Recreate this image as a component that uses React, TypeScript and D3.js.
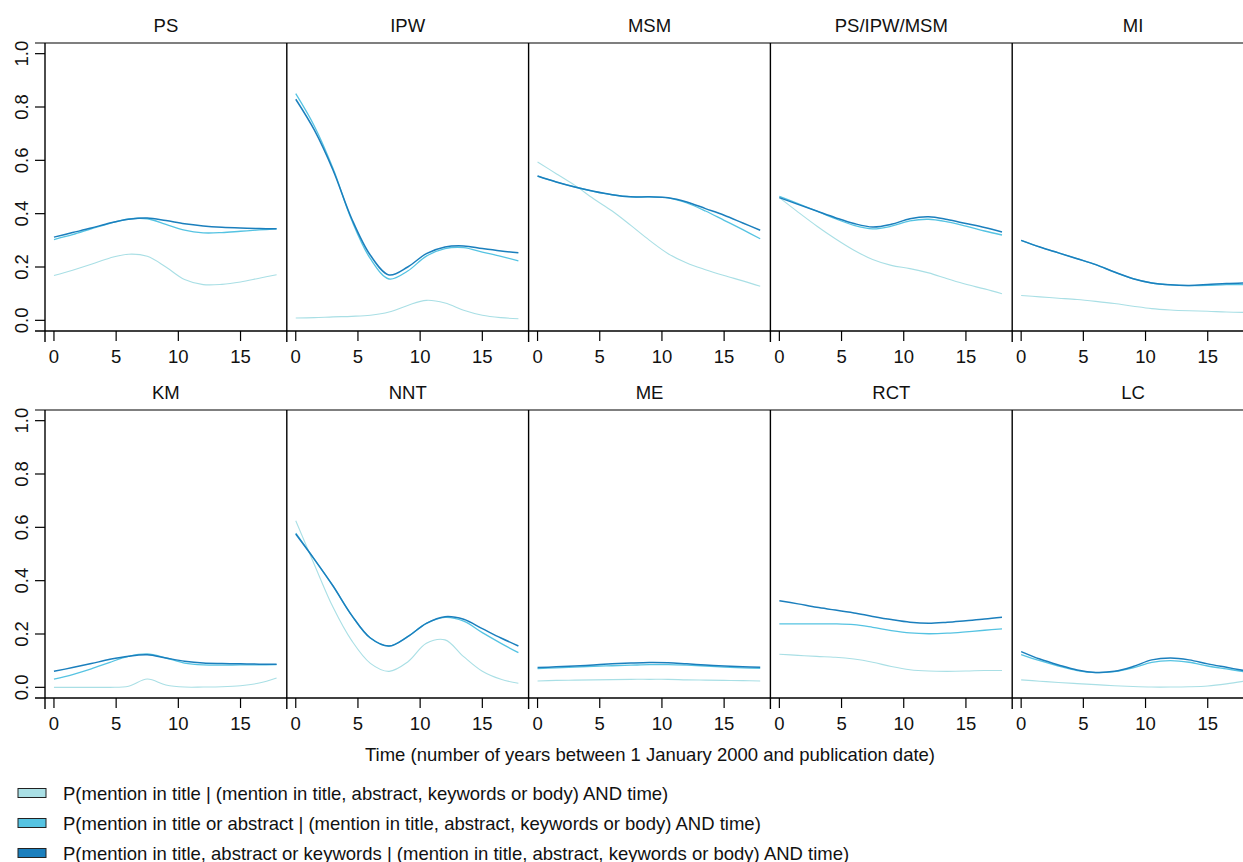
import React from "react";
import * as d3 from "d3";

// years since 1 Jan 2000 at which the smoothed curves were read
const years = [0, 1.5, 3, 4.5, 6, 7.5, 9, 10.5, 12, 13.5, 15, 16.5, 17.9];

const panelNames = ["PS", "IPW", "MSM", "PS/IPW/MSM", "MI", "KM", "NNT", "ME", "RCT", "LC"];

// T = title, A = title or abstract, K = title, abstract or keywords
const PS_T = [0.168, 0.188, 0.21, 0.234, 0.248, 0.24, 0.2, 0.153, 0.134, 0.135, 0.144, 0.158, 0.171];
const PS_A = [0.303, 0.321, 0.343, 0.364, 0.38, 0.381, 0.36, 0.338, 0.328, 0.329, 0.334, 0.339, 0.343];
const PS_K = [0.312, 0.329, 0.346, 0.365, 0.379, 0.384, 0.374, 0.362, 0.354, 0.349, 0.346, 0.344, 0.343];

const IPW_T = [0.009, 0.01, 0.013, 0.015, 0.019, 0.031, 0.056, 0.075, 0.065, 0.038, 0.019, 0.01, 0.006];
const IPW_A = [0.85, 0.728, 0.569, 0.375, 0.231, 0.155, 0.185, 0.241, 0.269, 0.273, 0.256, 0.24, 0.223];
const IPW_K = [0.829, 0.713, 0.563, 0.381, 0.244, 0.17, 0.2, 0.25, 0.275, 0.279, 0.269, 0.26, 0.253];

const MSM_T = [0.594, 0.55, 0.506, 0.456, 0.41, 0.356, 0.3, 0.25, 0.215, 0.19, 0.168, 0.148, 0.128];
const MSM_A = [0.541, 0.519, 0.5, 0.484, 0.471, 0.463, 0.463, 0.459, 0.44, 0.41, 0.375, 0.34, 0.306];
const MSM_K = [0.541, 0.519, 0.5, 0.484, 0.471, 0.463, 0.463, 0.46, 0.444, 0.419, 0.394, 0.365, 0.338];

const PIM_T = [0.46, 0.406, 0.354, 0.306, 0.263, 0.228, 0.206, 0.194, 0.178, 0.156, 0.135, 0.118, 0.1];
const PIM_A = [0.465, 0.438, 0.41, 0.381, 0.356, 0.343, 0.353, 0.373, 0.379, 0.369, 0.353, 0.335, 0.32];
const PIM_K = [0.46, 0.435, 0.41, 0.385, 0.363, 0.35, 0.36, 0.381, 0.388, 0.378, 0.363, 0.348, 0.331];

const MI_T = [0.093, 0.088, 0.083, 0.078, 0.071, 0.063, 0.053, 0.044, 0.039, 0.036, 0.034, 0.031, 0.03];
const MI_A = [0.3, 0.275, 0.253, 0.231, 0.209, 0.181, 0.156, 0.14, 0.133, 0.13, 0.131, 0.134, 0.134];
const MI_K = [0.3, 0.275, 0.253, 0.231, 0.209, 0.181, 0.156, 0.14, 0.133, 0.131, 0.134, 0.138, 0.14];

const KM_T = [0.0, 0.0, 0.0, 0.0, 0.004, 0.031, 0.009, 0.001, 0.001, 0.002, 0.006, 0.016, 0.035];
const KM_A = [0.031, 0.048, 0.069, 0.094, 0.116, 0.125, 0.11, 0.091, 0.084, 0.083, 0.084, 0.084, 0.085];
const KM_K = [0.06, 0.074, 0.089, 0.105, 0.117, 0.122, 0.11, 0.098, 0.091, 0.089, 0.088, 0.087, 0.087];

const NNT_T = [0.625, 0.46, 0.3, 0.175, 0.09, 0.06, 0.095, 0.165, 0.178, 0.115, 0.06, 0.03, 0.015];
const NNT_A = [0.578, 0.48, 0.38, 0.27, 0.185, 0.155, 0.19, 0.24, 0.262, 0.248, 0.205, 0.165, 0.13];
const NNT_K = [0.575, 0.48, 0.38, 0.27, 0.185, 0.155, 0.19, 0.24, 0.265, 0.255, 0.22, 0.185, 0.155];

const ME_T = [0.024, 0.026, 0.027, 0.028, 0.029, 0.03, 0.03, 0.03, 0.028, 0.027, 0.026, 0.025, 0.024];
const ME_A = [0.07, 0.073, 0.076, 0.079, 0.081, 0.083, 0.085, 0.085, 0.083, 0.08, 0.076, 0.073, 0.071];
const ME_K = [0.074, 0.077, 0.08, 0.084, 0.088, 0.091, 0.093, 0.092, 0.088, 0.084, 0.08, 0.077, 0.075];

const RCT_T = [0.124, 0.12, 0.116, 0.113, 0.106, 0.094, 0.078, 0.066, 0.061, 0.06, 0.061, 0.063, 0.063];
const RCT_A = [0.238, 0.238, 0.238, 0.238, 0.235, 0.225, 0.213, 0.204, 0.201, 0.203, 0.208, 0.214, 0.219];
const RCT_K = [0.325, 0.313, 0.3, 0.29, 0.279, 0.266, 0.254, 0.244, 0.24, 0.244, 0.25, 0.256, 0.263];

const LC_T = [0.028, 0.023, 0.018, 0.014, 0.01, 0.006, 0.003, 0.001, 0.001, 0.002, 0.005, 0.013, 0.023];
const LC_A = [0.123, 0.1, 0.08, 0.063, 0.055, 0.059, 0.073, 0.094, 0.1, 0.094, 0.08, 0.069, 0.059];
const LC_K = [0.134, 0.106, 0.084, 0.065, 0.056, 0.06, 0.078, 0.103, 0.11, 0.103, 0.088, 0.075, 0.063];

const xTicks = [0, 5, 10, 15];
const yTicks = [0, 0.2, 0.4, 0.6, 0.8, 1.0];

const legendLabels = [
  "P(mention in title | (mention in title, abstract, keywords or body) AND time)",
  "P(mention in title or abstract | (mention in title, abstract, keywords or body) AND time)",
  "P(mention in title, abstract or keywords | (mention in title, abstract, keywords or body) AND time)",
];
const colors = ["#a9dfe5", "#55c3e2", "#1b7fbd"];
const widths = [1.1, 1.3, 1.5];

const seriesByPanel = [
  [PS_T, PS_A, PS_K],
  [IPW_T, IPW_A, IPW_K],
  [MSM_T, MSM_A, MSM_K],
  [PIM_T, PIM_A, PIM_K],
  [MI_T, MI_A, MI_K],
  [KM_T, KM_A, KM_K],
  [NNT_T, NNT_A, NNT_K],
  [ME_T, ME_A, ME_K],
  [RCT_T, RCT_A, RCT_K],
  [LC_T, LC_A, LC_K],
];

const W = 1243;
const H = 862;
const font = "'Liberation Sans', Arial, Helvetica, sans-serif";
const fs = 18.5;

const left0 = 45;
const panelW = 241.8;
const rowTops = [43, 410];
const panelH = 288;

const App = () => {
  const yScales = rowTops.map((t) =>
    d3.scaleLinear().domain([-0.04, 1.04]).range([t + panelH, t])
  );

  return (
    <svg
      width={W}
      height={H}
      style={{ position: "absolute", left: 0, top: 0, background: "#fff" }}
      fontFamily={font}
    >
      {rowTops.map((top, r) => {
        const bottom = top + panelH;
        const y = yScales[r];
        return (
          <g key={"row" + r}>
            <line x1={35} x2={W} y1={top} y2={top} stroke="#555" strokeWidth={1.3} />
            <line x1={35} x2={W} y1={bottom} y2={bottom} stroke="#000" strokeWidth={1.3} />
            {/* y axis, only on the first panel of the row */}
            {yTicks.map((t) => (
              <g key={"yt" + t}>
                <line x1={35} x2={left0} y1={y(t)} y2={y(t)} stroke="#000" strokeWidth={1.2} />
                <text
                  transform={`translate(28,${y(t)}) rotate(-90)`}
                  textAnchor="middle"
                  fontSize={fs}
                  fill="#111"
                >
                  {t.toFixed(1)}
                </text>
              </g>
            ))}
            {[0, 1, 2, 3, 4].map((c) => {
              const i = r * 5 + c;
              const x0 = left0 + c * panelW;
              const x = d3.scaleLinear().domain([-0.72, 18.72]).range([x0, x0 + panelW]);
              const line = d3
                .line<number>()
                .x((_, k) => x(years[k]))
                .y((v) => y(v))
                .curve(d3.curveCatmullRom.alpha(0.5));
              return (
                <g key={"p" + i}>
                  <text
                    x={x0 + panelW / 2}
                    y={top - 11}
                    textAnchor="middle"
                    fontSize={fs}
                    fill="#111"
                  >
                    {panelNames[i]}
                  </text>
                  {seriesByPanel[i].map((s, j) => (
                    <path
                      key={"s" + j}
                      d={line(s) || ""}
                      fill="none"
                      stroke={colors[j]}
                      strokeWidth={widths[j]}
                    />
                  ))}
                  <line x1={x0} x2={x0} y1={top} y2={bottom + 11} stroke="#000" strokeWidth={1.4} />
                  {xTicks.map((t) => (
                    <g key={"xt" + t}>
                      <line x1={x(t)} x2={x(t)} y1={bottom} y2={bottom + 10} stroke="#000" strokeWidth={1.2} />
                      <text x={x(t)} y={bottom + 32} textAnchor="middle" fontSize={fs} fill="#111">
                        {t}
                      </text>
                    </g>
                  ))}
                </g>
              );
            })}
          </g>
        );
      })}
      <text x={650} y={761} textAnchor="middle" fontSize={fs} fill="#111">
        Time (number of years between 1 January 2000 and publication date)
      </text>
      {legendLabels.map((lab, j) => (
        <g key={"lg" + j} transform={`translate(0,${793 + j * 30})`}>
          <rect x={18} y={-4.5} width={28} height={9} fill={colors[j]} stroke="#222" strokeWidth={1} />
          <text x={63} y={6.5} fontSize={fs} fill="#111">
            {lab}
          </text>
        </g>
      ))}
    </svg>
  );
};

export default App;
